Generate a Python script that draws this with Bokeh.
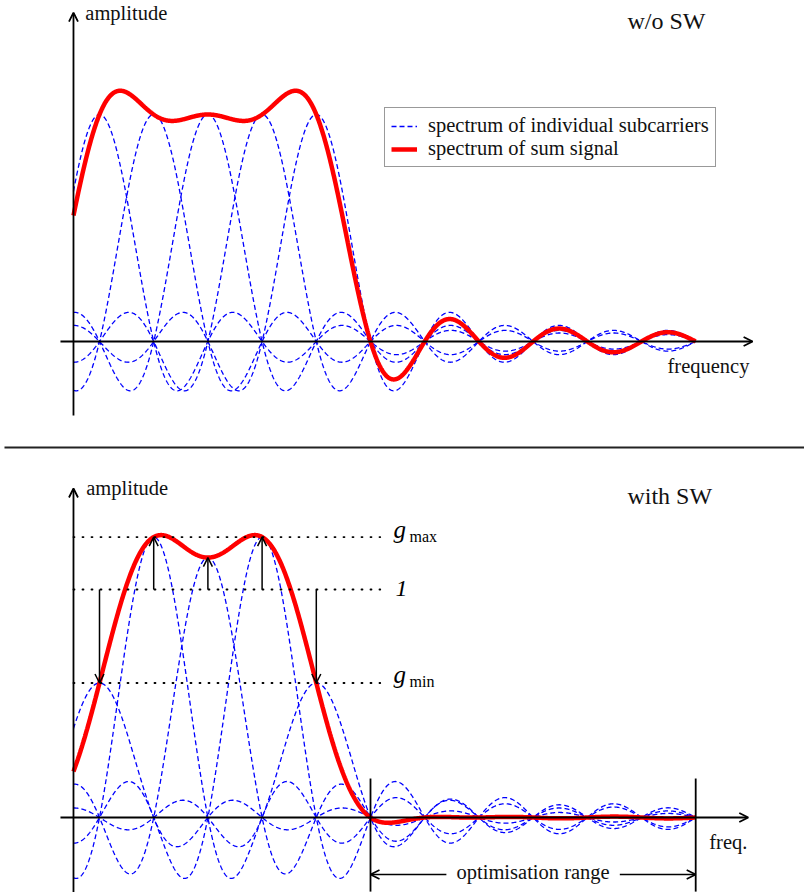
import numpy as np
from bokeh.plotting import figure
from bokeh.models import Range1d, Arrow, OpenHead, Legend, LegendItem
from bokeh.embed import file_html
from bokeh.resources import INLINE
from bokeh.core.properties import value

# Subcarrier centre frequencies, in units of the subcarrier spacing
subcarrier_freqs = [0, 1, 2, 3, 4]
# Amplitude weights per subcarrier: plain OFDM and with subcarrier weighting (SW)
weights_plain = [1.0, 1.0, 1.0, 1.0, 1.0]
weights_sw = [0.59, 1.23, 1.14, 1.23, 0.59]
# Frequency span over which the spectra are drawn
freq_span = [-0.48, 11.0]
# Optimisation range for the sidelobe suppression
opt_range = [5, 11]

FONT_NAME = "Liberation Serif"
FONT = value(FONT_NAME)
BLUE = "#0000FF"
RED = "#FF0000"
INK = "#111111"

f = np.linspace(freq_span[0], freq_span[1], 1400)


def spectra(weights):
    parts = [w * np.sinc(f - fc) for w, fc in zip(weights, subcarrier_freqs)]
    return parts, np.sum(parts, axis=0)


p = figure(width=804, height=892, output_backend="svg", toolbar_location=None,
           x_range=Range1d(-1.8266, 13.0074), y_range=Range1d(-2.4273, 1.5022),
           x_axis_type=None, y_axis_type=None, min_border=0)
p.extra_y_ranges = {"sw": Range1d(-0.3289, 3.5833)}
p.outline_line_color = None
p.background_fill_color = "white"
p.border_fill_color = "white"

# ---------- upper panel: without subcarrier weighting ----------
parts, total = spectra(weights_plain)
blue_top = None
for s in parts:
    r = p.line(f, s, line_color=BLUE, line_width=1.3, line_dash="5 3")
    blue_top = blue_top or r
red_top = p.line(f, total, line_color=RED, line_width=4.5)

# ---------- lower panel: with subcarrier weighting ----------
parts_sw, total_sw = spectra(weights_sw)
for s in parts_sw:
    p.line(f, s, line_color=BLUE, line_width=1.3, line_dash="5 3", y_range_name="sw")
p.line(f, total_sw, line_color=RED, line_width=4.5, y_range_name="sw")

# reference levels g_max, 1, g_min
levels = [max(weights_sw), 1.0, min(weights_sw)]
p.segment(x0=[-0.48] * 3, y0=levels, x1=[5.18] * 3, y1=levels,
          line_color="black", line_width=1.8, line_dash="1 8", line_cap="round",
          y_range_name="sw")

# weighting arrows from the unit level to each weighted subcarrier peak
for fc, w in zip(subcarrier_freqs, weights_sw):
    p.add_layout(Arrow(x_start=fc, y_start=1.0, x_end=fc, y_end=w,
                       line_width=1.5, line_color="black",
                       end=OpenHead(size=9, line_width=1.5, line_color="black"),
                       y_range_name="sw"))

# level labels
lab_x = 5.424
p.text(x=[lab_x, lab_x], y=[levels[0], levels[2]], text=["g", "g"],
       text_font=FONT, text_font_style="italic", text_font_size="25px",
       text_baseline="alphabetic", y_offset=-8, y_range_name="sw", text_color="black")
p.text(x=[5.72, 5.72], y=[levels[0], levels[2]], text=["max", "min"],
       text_font=FONT, text_font_size="16px",
       text_baseline="alphabetic", y_offset=-1, y_range_name="sw", text_color="black")
p.text(x=[5.46], y=[levels[1]], text=["1"],
       text_font=FONT, text_font_style="italic", text_font_size="24px",
       text_baseline="alphabetic", y_offset=-1, y_range_name="sw", text_color="black")

# optimisation range markers
p.segment(x0=opt_range, y0=[0.171, 0.171], x1=opt_range, y1=[-0.325, -0.325],
          line_color="black", line_width=1.8, y_range_name="sw")
mid = sum(opt_range) / 2
gap = 1.6
for a, b in [(mid - gap, opt_range[0]), (mid + gap, opt_range[1])]:
    p.add_layout(Arrow(x_start=a, y_start=-0.25, x_end=b, y_end=-0.25,
                       line_width=1.6, line_color="black",
                       end=OpenHead(size=9, line_width=1.6, line_color="black"),
                       y_range_name="sw"))
p.text(x=[mid], y=[-0.241], text=["optimisation range"], text_font=FONT,
       text_font_size="20.5px", text_align="center", text_baseline="alphabetic",
       y_range_name="sw", text_color=INK)

# ---------- axes ----------
def axis_arrow(xs, ys, xe, ye, rng="default"):
    p.add_layout(Arrow(x_start=xs, y_start=ys, x_end=xe, y_end=ye,
                       line_width=1.8, line_color="black",
                       end=OpenHead(size=9, line_width=1.8, line_color="black"),
                       y_range_name=rng))

axis_arrow(-0.72, 0, 12.05, 0)
axis_arrow(-0.48, -0.326, -0.48, 1.449)
axis_arrow(-0.72, 0, 11.97, 0, "sw")
axis_arrow(-0.48, -0.33, -0.48, 1.443, "sw")

# separator between the two panels
p.segment(x0=[-1.753], y0=[-0.467], x1=[13.1], y1=[-0.467],
          line_color="#222222", line_width=2)

# axis and panel captions
p.text(x=[-0.262], y=[1.445], text=["amplitude"], text_font=FONT,
       text_font_size="20.5px", text_baseline="alphabetic", text_color=INK)
p.text(x=[10.48], y=[-0.110], text=["frequency"], text_font=FONT,
       text_font_size="20.5px", text_baseline="alphabetic", text_color=INK)
p.text(x=[9.74], y=[1.410], text=["w/o SW"], text_font=FONT,
       text_font_size="24px", text_baseline="alphabetic", text_color=INK)
p.text(x=[-0.245], y=[1.443], text=["amplitude"], text_font=FONT,
       text_font_size="20.5px", text_baseline="alphabetic", text_color=INK,
       y_range_name="sw")
p.text(x=[11.25], y=[-0.109], text=["freq."], text_font=FONT,
       text_font_size="20.5px", text_baseline="alphabetic", text_color=INK,
       y_range_name="sw")
p.text(x=[9.74], y=[1.408], text=["with SW"], text_font=FONT,
       text_font_size="24px", text_baseline="alphabetic", text_color=INK,
       y_range_name="sw")

legend = Legend(items=[LegendItem(label="spectrum of individual subcarriers", renderers=[blue_top]),
                       LegendItem(label="spectrum of sum signal", renderers=[red_top])],
                location=(384, 725), label_text_font=FONT_NAME, label_text_font_size="20.5px",
                label_text_color=INK,
                glyph_width=26, glyph_height=20, label_height=20, label_standoff=11,
                padding=6, spacing=0, margin=0,
                border_line_color="#333333", border_line_width=1.2,
                background_fill_color="white", background_fill_alpha=1)
p.add_layout(legend)

open("out.html", "w").write(file_html(p, INLINE))
